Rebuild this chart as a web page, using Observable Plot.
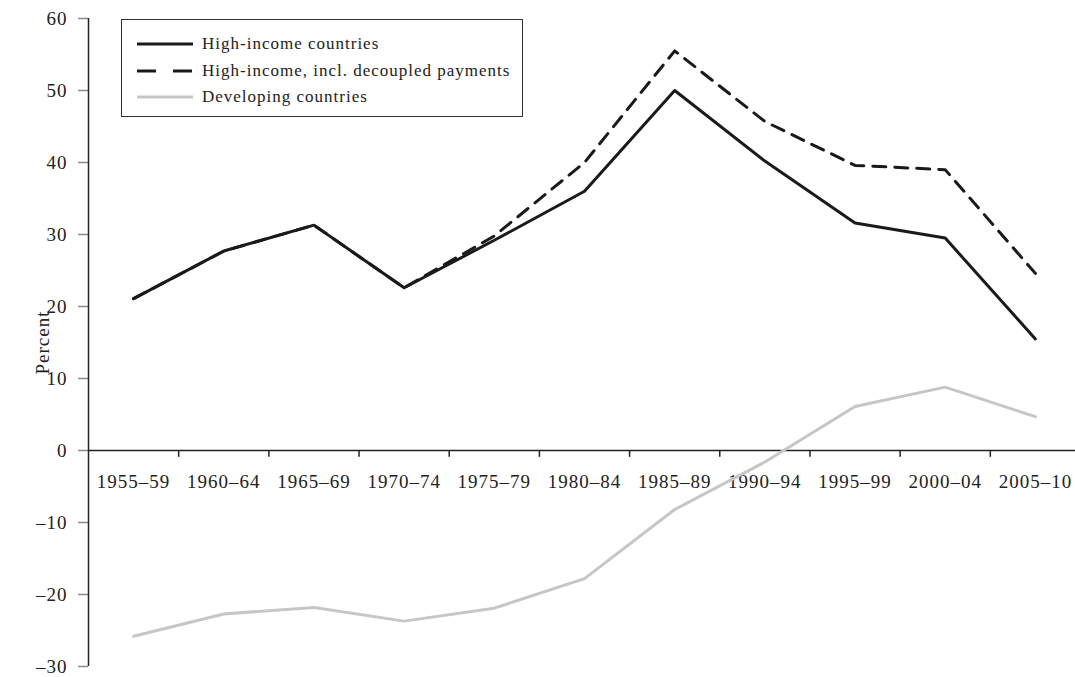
<!DOCTYPE html>
<html>
<head>
<meta charset="utf-8">
<script src="https://cdn.jsdelivr.net/npm/d3@7"></script>
<script src="https://cdn.jsdelivr.net/npm/@observablehq/plot@0.6"></script>
<style>
  html, body { margin: 0; padding: 0; background: #fff; }
  #wrap { position: relative; width: 1075px; height: 677px; overflow: hidden; font-family: "Liberation Serif", "DejaVu Serif", serif; }
  #wrap svg { overflow: visible; }
  #legend { position: absolute; left: 121px; top: 19px; width: 402px; height: 98px; border: 1.5px solid #333; background: #fff; box-sizing: border-box; }
  #legend .row { position: absolute; left: 14px; height: 20px; display: flex; align-items: center; font-size: 17px; letter-spacing: 1px; color: #222; }
  #legend svg { margin-right: 8px; }
</style>
</head>
<body>
<div id="wrap"></div>
<script>
const periods = ["1955–59","1960–64","1965–69","1970–74","1975–79","1980–84","1985–89","1990–94","1995–99","2000–04","2005–10"];
const highIncome = [21.1, 27.7, 31.3, 22.6, 29.2, 36.0, 50.0, 40.2, 31.6, 29.5, 15.5];
const highIncomeDecoupled = [21.1, 27.7, 31.3, 22.6, 29.8, 40.0, 55.5, 45.7, 39.6, 39.0, 24.6];
const developing = [-25.8, -22.7, -21.8, -23.7, -21.9, -17.8, -8.2, -1.6, 6.1, 8.8, 4.7];
const yTicks = [-30, -20, -10, 0, 10, 20, 30, 40, 50, 60];
const seriesNames = ["High-income countries", "High-income, incl. decoupled payments", "Developing countries"];

const rows = [];
periods.forEach((p, i) => {
  rows.push({i, series: seriesNames[0], value: highIncome[i]});
  rows.push({i, series: seriesNames[1], value: highIncomeDecoupled[i]});
  rows.push({i, series: seriesNames[2], value: developing[i]});
});
const bounds = d3.range(0.5, periods.length - 0.5, 1);
const fmt = d => d < 0 ? "–" + (-d) : String(d);

const chart = Plot.plot({
  width: 1075,
  height: 677,
  marginLeft: 88,
  marginRight: 0,
  marginTop: 18,
  marginBottom: 11,
  style: {fontFamily: '"Liberation Serif", "DejaVu Serif", serif', fontSize: "19px", color: "#222", background: "#fff", letterSpacing: "1px", overflow: "visible"},
  x: {type: "linear", domain: [-0.5, periods.length - 0.5], range: [88, 1080], axis: null},
  y: {domain: [-30, 60], axis: null},
  marks: [
    Plot.axisY({ticks: yTicks, tickSize: 10, tickPadding: 11, tickFormat: fmt, stroke: "#888", strokeWidth: 1.5, fill: "#222", fontSize: 19, label: null}),
    Plot.ruleX([-0.5], {y1: -30, y2: 60, stroke: "#222", strokeWidth: 1.5}),
    Plot.ruleY([0], {x1: -0.5, x2: periods.length - 0.5, stroke: "#222", strokeWidth: 1.5}),
    Plot.ruleX(bounds, {x: d => d, y1: 0, y2: -0.95, stroke: "#222", strokeWidth: 1.5}),
    Plot.text(periods, {x: (d, i) => i, y: 0, dy: 31, text: d => d, fontSize: 19, fill: "#222"}),
    Plot.text(["Percent"], {x: -0.5, y: 15, dx: -46, rotate: -90, text: d => d, fontSize: 19, fill: "#222"}),
    Plot.line(rows.filter(d => d.series === seriesNames[2]), {x: "i", y: "value", stroke: "#c6c6c6", strokeWidth: 3}),
    Plot.line(rows.filter(d => d.series === seriesNames[1]), {x: "i", y: "value", stroke: "#1a1a1a", strokeWidth: 3, strokeDasharray: "13,9"}),
    Plot.line(rows.filter(d => d.series === seriesNames[0]), {x: "i", y: "value", stroke: "#1a1a1a", strokeWidth: 3})
  ]
});
const wrap = document.getElementById("wrap");
wrap.appendChild(chart);

const legend = document.createElement("div");
legend.id = "legend";
const styles = [
  {stroke: "#1a1a1a", dash: null},
  {stroke: "#1a1a1a", dash: "19,17"},
  {stroke: "#c6c6c6", dash: null}
];
seriesNames.forEach((name, k) => {
  const row = document.createElement("div");
  row.className = "row";
  row.style.top = (14 + k * 26.5) + "px";
  const s = styles[k];
  row.innerHTML = `<svg width="58" height="6"><line x1="1" y1="3" x2="57" y2="3" stroke="${s.stroke}" stroke-width="3" ${s.dash ? `stroke-dasharray="${s.dash}"` : ""}/></svg><span>${name}</span>`;
  legend.appendChild(row);
});
wrap.appendChild(legend);
</script>
</body>
</html>
